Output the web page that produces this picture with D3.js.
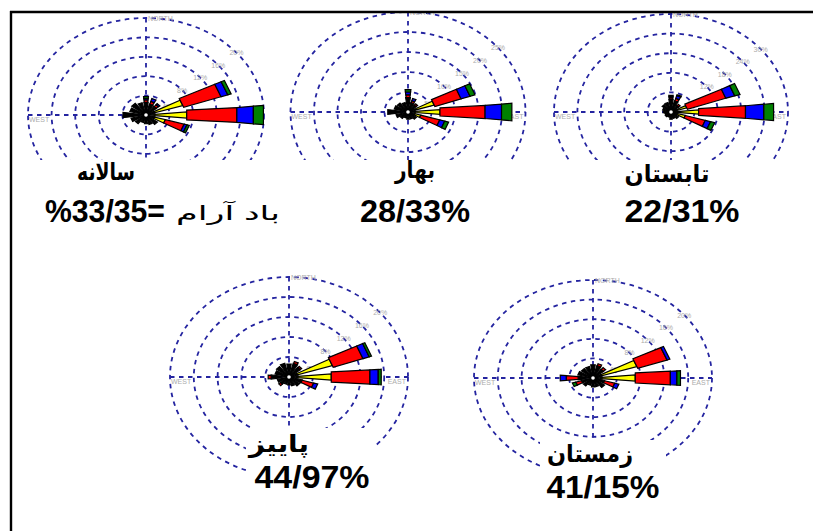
<!DOCTYPE html>
<html>
<head>
<meta charset="utf-8">
<script src="https://cdn.jsdelivr.net/npm/d3@7"></script>
<style>
  body { margin: 0; background: #fff; }
  svg { display: block; }
</style>
</head>
<body>
<svg id="chart" width="813" height="531"></svg>
<script>
// Sixteen compass directions, clockwise from north
const directions = ["N","NNE","NE","ENE","E","ESE","SE","SSE","S","SSW","SW","WSW","W","WNW","NW","NNW"];
// Wind-speed classes, lightest first
const speedColors = ["#000000", "#ffff00", "#ff0000", "#0000ff", "#008000"];

// Frequency (%) per direction, split by speed class
const annualPetals = [
  [2.6,0,0.5,0.3,0.4],[2.3,0,0.6,0.6,0],[2.2,0,0.5,0.3,0],[1.5,5.0,6.7,1.2,0.6],
  [1.5,5.4,8.5,2.8,1.7],[1.5,1.9,3.3,0.5,0.4],[2.4,0,0,0,0],[2.0,0,0,0,0],
  [1.8,0,0,0,0],[1.6,0,0,0,0],[2.2,0,0,0,0],[2.6,0,0,0,0],
  [3.9,0,0,0,0],[2.8,0,0,0,0],[3.0,0,0,0,0],[2.6,0,0,0,0]
];
const springPetals = [
  [3.6,0,0.7,0.7,0.6],[2.4,0,0.5,0.6,0],[2.2,0,0.4,0,0],[1.5,4.3,5.9,2.0,1.1],
  [1.5,5.3,9.6,3.5,2.2],[1.5,1.3,4.2,1.1,0.85],[2.2,0,0,0,0],[1.8,0,0,0,0],
  [1.8,0,0,0,0],[1.5,0,0,0,0],[2.0,0,0,0,0],[2.6,0,0,0,0],
  [4.3,0,0,0,0],[3.0,0,0,0,0],[2.8,0,0,0,0],[2.4,0,0,0,0]
];
const summerPetals = [
  [3.8,0,0.5,0.4,0.4],[3.5,0,0.8,0.9,0.3],[2.4,0,0.6,0,0],[1.5,2.7,10.4,2.4,1.4],
  [1.5,5.6,12.0,4.7,2.5],[1.5,2.3,5.3,1.4,1.1],[2.4,0,0,0,0],[2.0,0,0,0,0],
  [2.2,0,0,0,0],[1.6,0,0,0,0],[1.8,0,0,0,0],[1.6,0,0,0,0],
  [2.0,0,0,0,0],[2.2,0,0,0,0],[2.8,0,0,0,0],[3.0,0,0,0,0]
];
const autumnPetals = [
  [2.6,0,0,0,0],[2.8,0,0.4,0,0],[2.4,0,0.3,0,0],[1.5,6.1,5.3,1.1,0.4],
  [1.5,5.6,6.5,1.4,0.5],[2.3,0,2.0,0.7,0],[2.2,0,0,0,0],[1.8,0,0,0,0],
  [1.6,0,0,0,0],[1.5,0,0,0,0],[1.8,0,0.4,0,0],[2.0,0,0,0,0],
  [3.0,0,0.5,0,0],[2.4,0,0,0,0],[2.6,0,0,0,0],[2.8,0,0,0,0]
];
const winterPetals = [
  [2.7,0,0,0,0],[2.6,0,0.4,0,0],[2.2,0,0.5,0,0],[1.5,6.2,5.2,0.5,0],
  [1.5,5.6,5.9,1.1,0.6],[2.0,0,1.8,0.7,0],[2.4,0,0,0,0],[1.8,0,0,0,0],
  [1.8,0,0,0,0],[1.5,0,0,0,0],[2.0,0,0,0,0],[2.0,0,1.0,0,0.6],
  [2.5,0,2.0,1.0,0],[2.6,0,0,0,0],[2.4,0,0,0,0],[2.4,0,0,0,0]
];

// Ring values (%) for each rose
const annualRings = [4, 8, 12, 16, 20];
const springRings = [5, 10, 15, 20, 25];
const summerRings = [6, 12, 18, 24, 30];
const autumnRings = [4, 8, 12, 16, 20];
const winterRings = [4, 8, 12, 16, 20];

// Season titles and calm-wind percentages
const seasonTitles = ["سالانه", "بهار", "تابستان", "پاییز", "زمستان"];
const calmLabels = ["33/35", "28/33%", "22/31%", "44/97%", "41/15%"];
const calmCaption = "باد آرام";

const gridColor = "#2424a0";
const labelGray = "#acacac";
const fontLatin = "'Liberation Sans', Arial, 'DejaVu Sans', sans-serif";

const svg = d3.select("#chart");
svg.append("rect").attr("width", 813).attr("height", 531).attr("fill", "#fff");
const defs = svg.append("defs");

const roses = [
  { petals: annualPetals, rings: annualRings, cx: 146, cy: 115, rx: 118, ry: 97,  clip: [13, 160] },
  { petals: springPetals, rings: springRings, cx: 408, cy: 112, rx: 117.5, ry: 100, clip: [13, 160] },
  { petals: summerPetals, rings: summerRings, cx: 671, cy: 112, rx: 117, ry: 98,  clip: [13, 160] },
  { petals: autumnPetals, rings: autumnRings, cx: 289, cy: 377, rx: 119, ry: 100, clip: null },
  { petals: winterPetals, rings: winterRings, cx: 593, cy: 378, rx: 119, ry: 98,  clip: null }
];

function drawRose(r, idx) {
  const maxV = r.rings[r.rings.length - 1];
  const sx = d3.scaleLinear().domain([0, maxV]).range([0, r.rx]);
  const sy = d3.scaleLinear().domain([0, maxV]).range([0, r.ry]);

  const g = svg.append("g").attr("transform", `translate(${r.cx},${r.cy})`);
  if (r.clip) {
    defs.append("clipPath").attr("id", "roseClip" + idx)
      .append("rect")
      .attr("x", -r.rx - 10).attr("y", r.clip[0] - r.cy)
      .attr("width", 2 * r.rx + 20).attr("height", r.clip[1] - r.clip[0]);
    g.attr("clip-path", `url(#roseClip${idx})`);
  }

  const dashed = sel => sel.attr("fill", "none").attr("stroke", gridColor)
    .attr("stroke-width", 1.8).attr("stroke-dasharray", "4.5,4.5");

  // dashed rings
  g.selectAll("ellipse.ring").data(r.rings).join("ellipse")
    .attr("class", "ring")
    .attr("rx", d => sx(d)).attr("ry", d => sy(d))
    .call(dashed);

  // dashed compass axes
  g.append("line").attr("x1", 0).attr("x2", 0).attr("y1", -sy(maxV)).attr("y2", sy(maxV)).call(dashed);
  g.append("line").attr("y1", 0).attr("y2", 0).attr("x1", -sx(maxV)).attr("x2", sx(maxV)).call(dashed);

  // compass words
  const cw = g.append("g").attr("font-family", fontLatin).attr("font-size", 7).attr("fill", labelGray);
  cw.append("text").attr("x", 2).attr("y", -sy(maxV) + 2.5).text("NORTH");
  cw.append("text").attr("x", -sx(maxV) + 1).attr("y", 7).text("WEST");
  cw.append("text").attr("x", sx(maxV) - 2).attr("y", 7).attr("text-anchor", "end").text("EAST");

  // ring value labels along the north-east diagonal
  g.append("g").attr("font-family", fontLatin).attr("font-size", 7).attr("fill", labelGray)
    .attr("text-anchor", "middle")
    .selectAll("text").data(r.rings).join("text")
    .attr("x", (d, i) => sx(d * Math.sin((i === 0 ? 65 : 50) * Math.PI / 180)))
    .attr("y", (d, i) => -sy(d * Math.cos((i === 0 ? 65 : 50) * Math.PI / 180)) + 2.5)
    .text(d => d + "%");

  // petals: stacked speed-class segments per direction
  const segs = [];
  r.petals.forEach((vals, di) => {
    const total = d3.sum(vals);
    let acc = 0;
    vals.forEach((v, k) => {
      if (v > 0) segs.push({ di, k, r0: acc, r1: acc + v, total });
      acc += v;
    });
  });
  const halfWidth = (k, rr, total) => {
    if (k === 0) return 0.14 * rr;
    if (total < 12) return 0.11 * rr;
    if (k === 1) return 0.09 * rr;
    return Math.max(0.1 * rr, 0.6 + 0.06 * rr);
  };
  const pt = (rad, off, ang) => {
    const ux = Math.sin(ang), uy = -Math.cos(ang);
    const px = Math.cos(ang), py = Math.sin(ang);
    return [sx(rad * ux + off * px), sy(rad * uy + off * py)];
  };
  const line = d3.line().curve(d3.curveLinearClosed);
  g.append("g").selectAll("path").data(segs).join("path")
    .attr("d", s => {
      const a = s.di * 22.5 * Math.PI / 180;
      const w0 = halfWidth(s.k, s.r0, s.total), w1 = halfWidth(s.k, s.r1, s.total);
      return line([pt(s.r0, -w0, a), pt(s.r1, -w1, a), pt(s.r1, w1, a), pt(s.r0, w0, a)]);
    })
    .attr("fill", s => speedColors[s.k])
    .attr("stroke", "#000").attr("stroke-width", 1.2).attr("stroke-linejoin", "miter");

  // calm centre
  g.append("circle").attr("r", 1.8).attr("fill", "#fff");
}

roses.forEach(drawRose);

// frame
svg.append("line").attr("x1", 10).attr("x2", 813).attr("y1", 12).attr("y2", 12)
  .attr("stroke", "#000").attr("stroke-width", 2.4);
svg.append("line").attr("x1", 11).attr("x2", 11).attr("y1", 11).attr("y2", 531)
  .attr("stroke", "#000").attr("stroke-width", 2.4);

// white patches behind the lower titles
[[246, 428, 128, 66], [540, 440, 126, 64]].forEach(b => {
  svg.append("rect").attr("x", b[0]).attr("y", b[1]).attr("width", b[2]).attr("height", b[3]).attr("fill", "#fff");
});

// titles
const titlePos = [
  { x: 106, y: 180, w: 58 }, { x: 415, y: 178, w: 40 }, { x: 667, y: 182, w: 85 },
  { x: 279, y: 452, w: 60 }, { x: 590, y: 462, w: 86 }
];
const tg = svg.append("g").attr("font-family", fontLatin).attr("font-weight", "bold")
  .attr("font-size", 24).attr("fill", "#000").attr("text-anchor", "middle");
seasonTitles.forEach((t, i) => {
  tg.append("text").attr("x", titlePos[i].x).attr("y", titlePos[i].y)
    .attr("textLength", titlePos[i].w).attr("lengthAdjust", "spacingAndGlyphs")
    .text(t);
});

// calm percentages
const calmPos = [
  null, { x: 415, y: 222, w: 110 }, { x: 682, y: 222, w: 115 },
  { x: 312, y: 488, w: 115 }, { x: 603, y: 498, w: 113 }
];
const ng = svg.append("g").attr("font-family", fontLatin).attr("font-weight", "bold")
  .attr("font-size", 31).attr("fill", "#000").attr("text-anchor", "middle");
calmLabels.forEach((t, i) => {
  if (!calmPos[i]) return;
  ng.append("text").attr("x", calmPos[i].x).attr("y", calmPos[i].y)
    .attr("textLength", calmPos[i].w).attr("lengthAdjust", "spacingAndGlyphs").text(t);
});
// annual calm line: number block on the left, caption on the right
ng.append("text").attr("x", 45).attr("y", 222).attr("text-anchor", "start")
  .attr("textLength", 120).attr("lengthAdjust", "spacingAndGlyphs")
  .text("%" + calmLabels[0] + "=");
svg.append("text").attr("x", 280).attr("y", 220).attr("text-anchor", "end")
  .attr("font-family", fontLatin).attr("font-size", 20).attr("fill", "#000")
  .attr("textLength", 104).attr("lengthAdjust", "spacingAndGlyphs")
  .text(calmCaption);
</script>
</body>
</html>
